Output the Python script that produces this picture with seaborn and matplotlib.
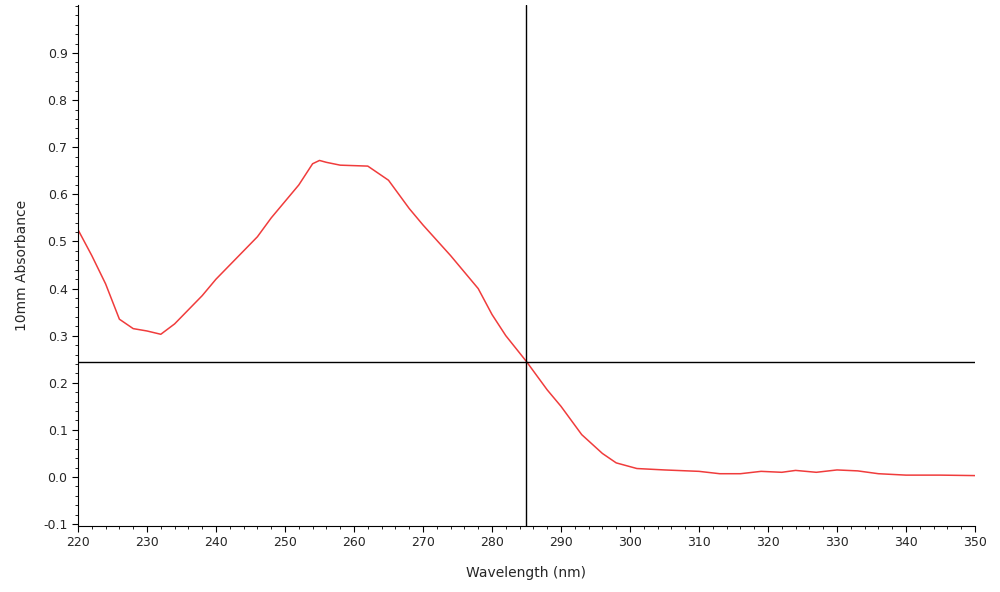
import numpy as np
import pandas as pd
import matplotlib
matplotlib.use("Agg")
import matplotlib.pyplot as plt
import seaborn as sns
from matplotlib.ticker import MultipleLocator

wavelength = [220, 222, 224, 226, 228, 230, 232, 234, 236, 238, 240, 242, 244, 246, 248,
              250, 252, 254, 255, 256, 258, 262, 265, 268, 270, 274, 278, 280, 282, 285,
              288, 290, 293, 296, 298, 301, 305, 310, 313, 316, 319, 322, 324, 327, 330,
              333, 336, 340, 345, 350]
absorbance = [0.525, 0.47, 0.41, 0.335, 0.315, 0.31, 0.303, 0.325, 0.355, 0.385, 0.42, 0.45,
              0.48, 0.51, 0.55, 0.585, 0.62, 0.665, 0.672, 0.668, 0.662, 0.66, 0.63, 0.57,
              0.535, 0.47, 0.40, 0.345, 0.30, 0.245, 0.185, 0.15, 0.09, 0.05, 0.03, 0.018,
              0.015, 0.012, 0.007, 0.007, 0.012, 0.010, 0.014, 0.010, 0.015, 0.013, 0.007,
              0.004, 0.004, 0.003]
cursor_x = 285
cursor_y = 0.245

df = pd.DataFrame({"wl": wavelength, "abs": absorbance})

sns.set_style("white")
plt.rcParams['font.family'] = ['DejaVu Sans']
fig = plt.figure(figsize=(10, 5.92), dpi=100)
ax = fig.add_axes([0.078, 1 - 526 / 592, 0.897, 521 / 592])
sns.lineplot(data=df, x="wl", y="abs", color="#f03c3c", linewidth=1.1, ax=ax)
ax.axvline(cursor_x, color="black", linewidth=1)
ax.axhline(cursor_y, color="black", linewidth=1)

ax.set_xlim(220, 350)
ax.set_ylim(-0.104, 1.002)
ax.xaxis.set_major_locator(MultipleLocator(10))
ax.yaxis.set_minor_locator(MultipleLocator(0.02))
ax.xaxis.set_minor_locator(MultipleLocator(2))
ax.set_yticks(np.arange(-0.1, 0.95, 0.1))
ax.yaxis.set_major_formatter(plt.FuncFormatter(lambda v, p: f"{v:.1f}"))
ax.tick_params(axis="both", which="major", direction="out", length=4, labelsize=9, color="black")
ax.tick_params(axis="both", which="minor", direction="out", length=2, color="black")
ax.tick_params(left=True, bottom=True, which="both")
for s in ["top", "right"]:
    ax.spines[s].set_visible(False)
for s in ["left", "bottom"]:
    ax.spines[s].set_color("black")
ax.set_xlabel("Wavelength (nm)", fontsize=10, labelpad=12)
ax.set_ylabel("10mm Absorbance", fontsize=10, labelpad=10)
fig.savefig("out.png", dpi=100)
